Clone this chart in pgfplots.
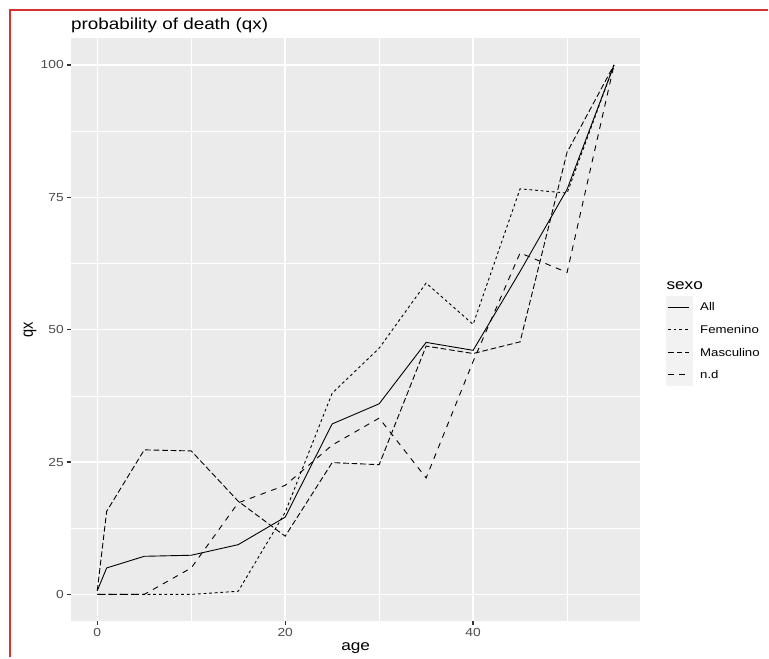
\documentclass[border=0pt]{standalone}
\usepackage{pgfplots}
\pgfplotsset{compat=1.18}
\usepackage{fontspec}
\setmainfont{Liberation Sans}[FakeStretch=1.18]
\newfontfamily\plainfont{Liberation Sans}
\definecolor{bggray}{HTML}{EBEBEB}
\definecolor{keybg}{HTML}{F2F2F2}
\definecolor{ticklab}{HTML}{4D4D4D}
\definecolor{tickc}{HTML}{333333}
\definecolor{redline}{HTML}{D93030}
\begin{document}
\begin{tikzpicture}[x=1pt,y=1pt]
\fill[white] (0pt,0pt) rectangle (769pt,658pt);
\draw[redline, line width=1.5pt] (10pt,0pt) -- (10pt,648pt) -- (769pt,648pt);
% legend key background
\fill[keybg] (666.7pt,271.5pt) rectangle (693.3pt,362pt);
\node[anchor=base west, inner sep=0pt, font=\fontsize{14.6}{16}\selectfont] at (667pt,368pt) {sexo};
\node[anchor=base west, inner sep=0pt, font=\fontsize{16}{18}\selectfont] at (71pt,628pt) {probability of death (qx)};
\node[anchor=base, inner sep=0pt, font=\fontsize{14.6}{16}\selectfont] at (356pt,7pt) {age};
\node[anchor=base, inner sep=0pt, rotate=90, font=\plainfont\fontsize{14.6}{16}\selectfont] at (33pt,328pt) {\scalebox{1}[1.18]{qx}};
\begin{axis}[
  at={(71.5pt,36.5pt)}, anchor=south west,
  scale only axis, width=569pt, height=583pt,
  xmin=-2.75, xmax=57.75, ymin=-5, ymax=105,
  axis background/.style={fill=bggray},
  axis line style={draw=none},
  xtick={0,20,40}, ytick={0,25,50,75,100},
  minor xtick={10,30,50}, minor ytick={12.5,37.5,62.5,87.5},
  grid=both,
  major grid style={white, line width=1.4pt},
  minor grid style={white, line width=0.7pt},
  tick align=outside, tick pos=left,
  major tick length=4pt, minor tick length=0pt,
  every tick/.style={color=tickc, line width=1.3pt},
  tick label style={font=\fontsize{11.7}{12}\selectfont, color=ticklab},
  /pgf/number format/assume math mode=true,
  yticklabel style={inner sep=0pt, anchor=east, xshift=-3.5pt},
  xticklabel style={inner sep=0pt, anchor=north, yshift=-2.9pt},
  legend style={at={(1.04886,0.55832)}, anchor=north west, draw=none, fill=none,
    inner sep=0pt, outer sep=0pt, row sep=0pt, column sep=10.7pt,
    font=\fontsize{11.2}{12}\selectfont,
    nodes={inner sep=0pt, text height=15.3pt, text depth=7.3pt}},
  legend cell align=left,
  legend image code/.code={\draw[#1] (0pt,0pt) -- (21pt,0pt);},
]
\addplot[black, line width=0.9pt] coordinates {(0,0.7)(1,5.0)(5,7.2)(10,7.4)(15,9.4)(20,14.6)(25,32.2)(30,36.0)(35,47.6)(40,46.1)(45,61.0)(50,76.5)(55,100)};
\addlegendentry{All}
\addplot[black, line width=0.9pt, dash pattern=on 2.8pt off 2.8pt] coordinates {(0,0)(1,0)(5,0)(10,0)(15,0.6)(20,15.5)(25,38.0)(30,46.5)(35,58.8)(40,51.0)(45,76.6)(50,75.8)(55,100)};
\addlegendentry{Femenino}
\addplot[black, line width=0.9pt, dash pattern=on 5.7pt off 2.8pt] coordinates {(0,0.7)(1,15.7)(5,27.3)(10,27.1)(15,17.6)(20,11.0)(25,24.9)(30,24.5)(35,46.9)(40,45.5)(45,47.7)(50,83.5)(55,100)};
\addlegendentry{Masculino}
\addplot[black, line width=0.9pt, dash pattern=on 5.7pt off 5.7pt] coordinates {(0,0)(1,0)(5,0)(10,5.0)(15,17.3)(20,20.6)(25,28.2)(30,33.3)(35,22.0)(40,44.0)(45,64.5)(50,60.8)(55,100)};
\addlegendentry{n.d}
\end{axis}
\end{tikzpicture}
\end{document}
